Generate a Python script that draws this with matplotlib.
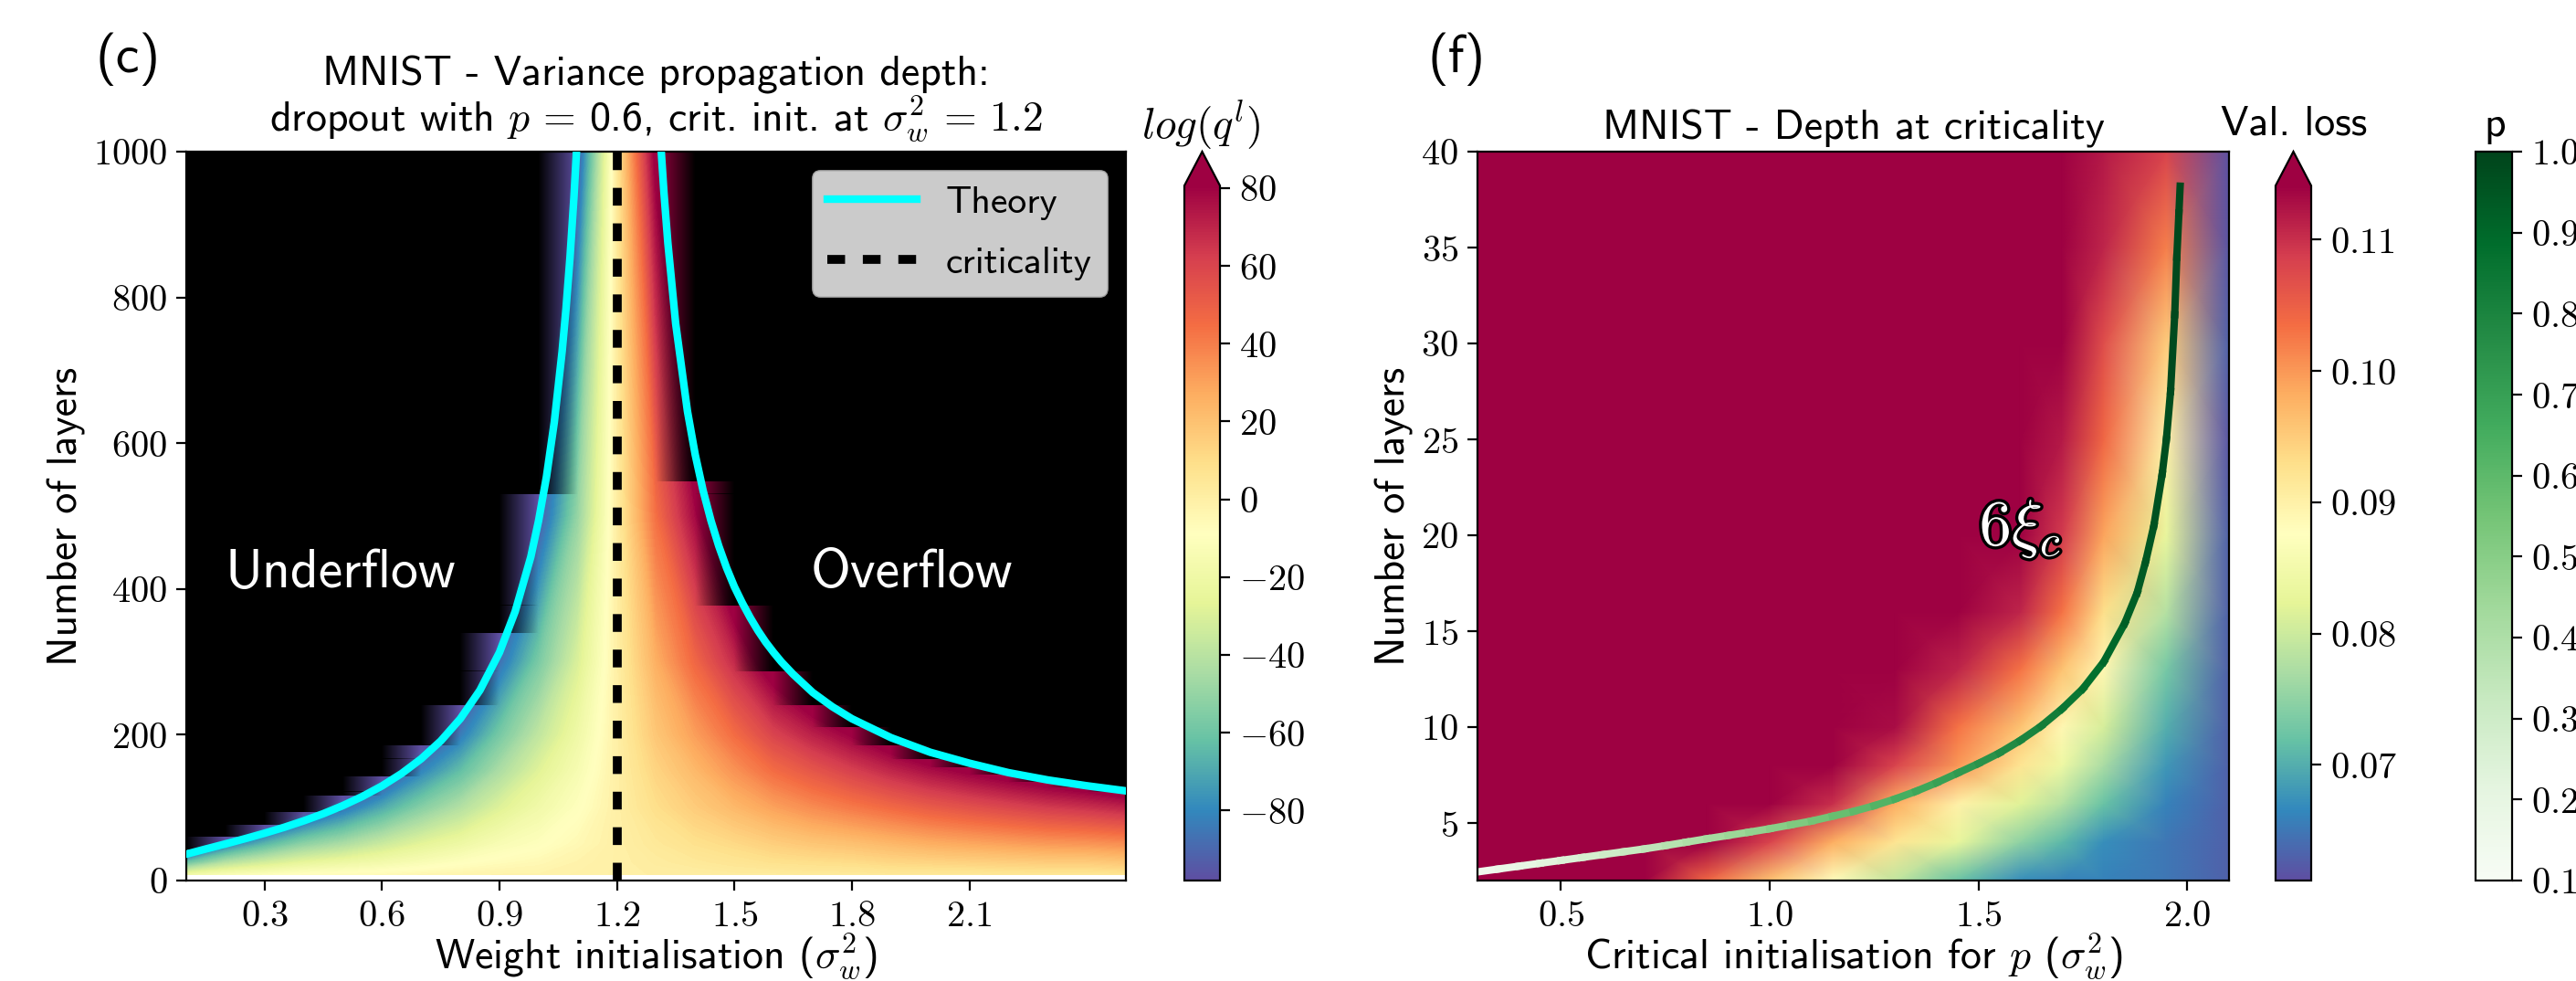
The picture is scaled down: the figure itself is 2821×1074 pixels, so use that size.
import numpy as np
import matplotlib
matplotlib.use('Agg')
import matplotlib.pyplot as plt
import matplotlib.patheffects as pe
from matplotlib.cm import ScalarMappable
from matplotlib.collections import LineCollection
from matplotlib.colors import Normalize

# panel (c): log(q^l) per weight init column, at a few depths
c_sigma = [0.1, 0.2, 0.3, 0.4, 0.5, 0.6, 0.7, 0.8, 0.9, 1.0, 1.1, 1.2, 1.3,
           1.4, 1.5, 1.6, 1.7, 1.8, 1.9, 2.0, 2.1, 2.2, 2.3, 2.4, 2.5]
c_layers = [8, 25, 50, 100, 150, 200, 300, 500, 1000]
c_values = [
    [-20, -14, -11, -8, -7, -6, -4, -3, -2, -2, -1, 0, 1, 1, 2, 2, 3, 3, 4, 4, 4, 5, 5, 5, 6],
    [-62, -42, -33, -26, -22, -18, -14, -10, -7, -5, -2, 0, 2, 4, 6, 8, 9, 10, 12, 13, 14, 15, 16, 16, 18],
    [-125, -85, -66, -52, -44, -35, -27, -21, -14, -10, -5, 0, 4, 8, 11, 15, 18, 20, 23, 26, 28, 30, 32, 33, 35],
    [-250, -170, -133, -105, -87, -70, -54, -42, -29, -19, -10, 0, 9, 16, 23, 30, 36, 41, 46, 51, 55, 59, 63, 66, 70],
    [-375, -255, -200, -158, -130, -105, -81, -63, -44, -28, -15, 0, 13, 23, 34, 45, 53, 61, 69, 76, 82, 88, 94, 99, 105],
    [-500, -340, -266, -210, -174, -140, -108, -84, -58, -38, -20, 0, 18, 31, 45, 60, 71, 81, 92, 102, 110, 118, 126, 132, 140],
    [-750, -510, -399, -315, -261, -210, -162, -126, -87, -57, -30, 0, 26, 47, 68, 90, 107, 122, 138, 153, 165, 177, 189, 198, 210],
    [-1250, -850, -665, -525, -435, -350, -270, -210, -145, -95, -50, 1, 44, 78, 112, 150, 178, 202, 230, 255, 275, 295, 315, 330, 350],
    [-2500, -1700, -1330, -1050, -870, -700, -540, -420, -290, -190, -95, 4, 85, 155, 225, 300, 355, 405, 460, 510, 550, 590, 630, 660, 700],
]
# depth where each column under/overflows
c_cutoff = [42, 60, 76, 94, 116, 143, 185, 240, 339, 530, 1000, 1000, 1000,
            547, 377, 287, 240, 210, 185, 167, 155, 145, 135, 128, 122]

theory_left_x = [0.10, 0.15, 0.20, 0.25, 0.30, 0.35, 0.40, 0.45, 0.50, 0.55, 0.60, 0.65, 0.70, 0.75,
                 0.80, 0.85, 0.90, 0.94, 0.98, 1.00, 1.02, 1.04, 1.06, 1.07, 1.08, 1.09, 1.098]
theory_left_y = [36.2, 43.3, 50.2, 57.4, 64.9, 73, 81.9, 91.7, 102.8, 115.4, 129.8, 146.8, 167, 191.5,
                 222, 261, 313, 369, 444, 494, 554, 629, 726, 785, 854, 936, 1013]
theory_right_x = [1.31, 1.32, 1.33, 1.35, 1.38, 1.40, 1.42, 1.44, 1.46, 1.48, 1.50, 1.52, 1.54, 1.56, 1.58, 1.60,
                  1.62, 1.65, 1.70, 1.75, 1.80, 1.90, 2.00, 2.10, 2.20, 2.30, 2.40, 2.50]
theory_right_y = [1026, 944, 875, 764, 644, 584, 535, 494, 459, 429, 403, 381, 361, 343, 327, 313,
                  300, 283, 258, 238.5, 222, 196, 176, 161, 148, 138, 130, 123]

# panel (f): validation loss
f_sigma = [0.3, 0.7, 0.85, 1.0, 1.15, 1.3, 1.45, 1.6, 1.7, 1.8, 1.95, 2.1]
f_layers = [2, 4, 6, 8, 10, 13, 16, 20, 25, 30, 35, 40]
f_values = [
    [.118, .114, .104, .096, .088, .079, .072, .067, .066, .066, .065, .063],
    [.118, .118, .116, .108, .098, .092, .083, .075, .071, .067, .065, .063],
    [.118, .118, .118, .118, .110, .098, .090, .082, .078, .072, .066, .063],
    [.118, .118, .118, .118, .116, .108, .100, .092, .084, .077, .068, .063],
    [.118, .118, .118, .118, .118, .113, .103, .096, .089, .081, .070, .063],
    [.118, .118, .118, .118, .118, .118, .111, .103, .096, .089, .073, .063],
    [.118, .118, .118, .118, .118, .118, .116, .111, .103, .093, .078, .063],
    [.118, .118, .118, .118, .118, .118, .118, .116, .109, .099, .083, .063],
    [.118, .118, .118, .118, .118, .118, .118, .118, .112, .104, .090, .062],
    [.118, .118, .118, .118, .118, .118, .118, .118, .114, .107, .095, .063],
    [.118, .118, .118, .118, .118, .118, .118, .118, .116, .111, .102, .062],
    [.118, .118, .118, .118, .118, .118, .118, .118, .116, .112, .108, .0615],
]

xi_x = [0.30, 0.35, 0.40, 0.45, 0.50, 0.55, 0.60, 0.65, 0.70, 0.75, 0.80, 0.85, 0.90, 0.95, 1.00,
        1.05, 1.10, 1.15, 1.20, 1.25, 1.30, 1.35, 1.40, 1.45, 1.50, 1.55, 1.60, 1.65, 1.70, 1.75,
        1.80, 1.85, 1.88, 1.90, 1.92, 1.94, 1.95, 1.96, 1.97, 1.975, 1.98, 1.983]
xi_y = [2.45, 2.6, 2.75, 2.9, 3.05, 3.2, 3.35, 3.5, 3.65, 3.82, 4.0, 4.18, 4.35, 4.52, 4.7,
        4.9, 5.1, 5.35, 5.6, 5.9, 6.25, 6.65, 7.1, 7.6, 8.1, 8.65, 9.3, 10.05, 10.95, 12.0,
        13.4, 15.4, 17, 18.6, 20.5, 23.2, 25, 27.5, 31.5, 34.5, 36.8, 38.2]
xi_p = [0.150, 0.175, 0.200, 0.225, 0.250, 0.275, 0.300, 0.325, 0.350, 0.375, 0.400, 0.425, 0.450, 0.475, 0.500,
        0.525, 0.550, 0.575, 0.600, 0.625, 0.650, 0.675, 0.700, 0.725, 0.750, 0.775, 0.800, 0.825, 0.850, 0.875,
        0.900, 0.925, 0.940, 0.950, 0.960, 0.970, 0.975, 0.980, 0.985, 0.988, 0.990, 0.992]

c_xticks = [0.3, 0.6, 0.9, 1.2, 1.5, 1.8, 2.1]
c_yticks = [0, 200, 400, 600, 800, 1000]
f_xticks = [0.5, 1.0, 1.5, 2.0]
f_yticks = [5, 10, 15, 20, 25, 30, 35, 40]
c_cbar_ticks = [-80, -60, -40, -20, 0, 20, 40, 60, 80]
f_cbar_ticks = [0.07, 0.08, 0.09, 0.10, 0.11]
p_cbar_ticks = [0.1, 0.2, 0.3, 0.4, 0.5, 0.6, 0.7, 0.8, 0.9, 1.0]

plt.rcParams['font.family'] = ['cmss10', 'DejaVu Sans']
plt.rcParams['mathtext.fontset'] = 'cm'
plt.rcParams['axes.unicode_minus'] = False

W, H = 2821, 1074
DPI = 200
TICK = 14.5
LABEL = 16.5


def box(left, top, right, bottom):
    return [left / W, 1 - bottom / H, (right - left) / W, (bottom - top) / H]


def tex(vals, fmt):
    return ['$\\mathrm{' + (fmt % v) + '}$' for v in vals]


def neg(vals):
    return ['$' + ('%d' % v) + '$' for v in vals]


fig = plt.figure(figsize=(W / DPI, H / DPI), dpi=DPI)

# ---- panel c
ax = fig.add_axes(box(204, 166, 1233, 964))
norm_c = Normalize(-98, 80.6)
levels = np.linspace(-98, 80.6, 180)
ax.contourf(c_sigma, c_layers, np.array(c_values, dtype=float), levels=levels,
            cmap='Spectral_r', norm=norm_c, extend='both')

# black mask, one band per cutoff, fades over one column and steps sharply in depth
steps = sorted(set([8] + c_cutoff))
for lo, hi in zip(steps[:-1], steps[1:]):
    band = np.zeros((1, len(c_sigma), 4))
    band[0, :, 3] = [1.0 if hi > cut else 0.0 for cut in c_cutoff]
    ax.imshow(band, extent=(0.05, 2.55, lo, hi), origin='lower', aspect='auto',
              interpolation='bilinear', zorder=1.5, clip_on=True)

ax.plot(theory_left_x, theory_left_y, color='cyan', lw=3, label='Theory', zorder=3)
ax.plot(theory_right_x, theory_right_y, color='cyan', lw=3, zorder=3)
ax.axvline(1.2, color='k', lw=3.5, ls=(0, (2, 2)), label='criticality', zorder=3)
ax.set_xlim(0.1, 2.5)
ax.set_ylim(0, 1000)
ax.set_xticks(c_xticks, labels=tex(c_xticks, '%.1f'))
ax.set_yticks(c_yticks, labels=tex(c_yticks, '%d'))
ax.tick_params(labelsize=TICK, length=4)
ax.set_xlabel(r'Weight initialisation ($\sigma_w^2$)', fontsize=LABEL, labelpad=-1)
ax.set_ylabel('Number of layers', fontsize=LABEL, labelpad=3)
ax.set_title('MNIST - Variance propagation depth:\ndropout with $p\\,=\\,$0.6, crit. init. at $\\sigma_w^2\\,=\\,1.2$',
             fontsize=LABEL, pad=8, linespacing=1.0)
ax.legend(loc='upper right', fontsize=15, handlelength=2.35, labelspacing=0.7, handletextpad=0.75)
ax.text(0.493, 421, 'Underflow', color='w', fontsize=21.5, ha='center', va='center', zorder=4)
ax.text(1.953, 421, 'Overflow', color='w', fontsize=21.5, ha='center', va='center', zorder=4)

cax = fig.add_axes(box(1297, 166, 1336, 964))
cb = fig.colorbar(ScalarMappable(norm_c, 'Spectral_r'), cax=cax, extend='max', extendfrac=0.049)
cb.set_ticks(c_cbar_ticks, labels=neg(c_cbar_ticks))
cax.tick_params(labelsize=TICK, length=4)
fig.text(1315 / W, 1 - 137 / H, '$log(q^l)$', fontsize=17, ha='center', va='center')

# ---- panel f
ax = fig.add_axes(box(1618, 166, 2441, 964))
norm_f = Normalize(0.0612, 0.1141)
ax.pcolormesh(f_sigma, f_layers, np.array(f_values), shading='gouraud', cmap='Spectral_r', norm=norm_f)

norm_p = Normalize(0.1, 1.0)
pts = np.column_stack([xi_x, xi_y])
segs = np.stack([pts[:-1], pts[1:]], axis=1)
lc = LineCollection(segs, cmap='Greens', norm=norm_p, linewidths=2.9, capstyle='projecting')
lc.set_array(np.array(xi_p[:-1]))
ax.add_collection(lc)
ax.set_xlim(0.3, 2.1)
ax.set_ylim(2, 40)
ax.set_xticks(f_xticks, labels=tex(f_xticks, '%.1f'))
ax.set_yticks(f_yticks, labels=tex(f_yticks, '%d'))
ax.tick_params(labelsize=TICK, length=4)
ax.set_xlabel(r'Critical initialisation for $p$ ($\sigma_w^2$)', fontsize=LABEL, labelpad=-1)
ax.set_ylabel('Number of layers', fontsize=LABEL, labelpad=3)
ax.set_title('MNIST - Depth at criticality', fontsize=LABEL, pad=5)
ax.text(1.60, 20.3, r'$6\xi_c$', color='w', fontsize=25.5, ha='center', va='center',
        path_effects=[pe.withStroke(linewidth=2.4, foreground='k')])

cax = fig.add_axes(box(2492, 166, 2531, 964))
cb = fig.colorbar(ScalarMappable(norm_f, 'Spectral_r'), cax=cax, extend='max', extendfrac=0.049)
cb.set_ticks(f_cbar_ticks, labels=tex(f_cbar_ticks, '%.2f'))
cax.tick_params(labelsize=TICK, length=4)
fig.text(2512 / W, 1 - 136 / H, 'Val. loss', fontsize=LABEL, ha='center', va='center')

cax = fig.add_axes(box(2711, 166, 2751, 964))
cb = fig.colorbar(ScalarMappable(norm_p, 'Greens'), cax=cax)
cb.set_ticks(p_cbar_ticks, labels=tex(p_cbar_ticks, '%.1f'))
cax.tick_params(labelsize=TICK, length=4)
fig.text(2732 / W, 1 - 138 / H, 'p', fontsize=LABEL, ha='center', va='center')

fig.text(105 / W, 1 - 65 / H, '(c)', fontsize=21, ha='left', va='center')
fig.text(1563 / W, 1 - 65 / H, '(f)', fontsize=21, ha='left', va='center')

fig.savefig('out.png', dpi=DPI)
